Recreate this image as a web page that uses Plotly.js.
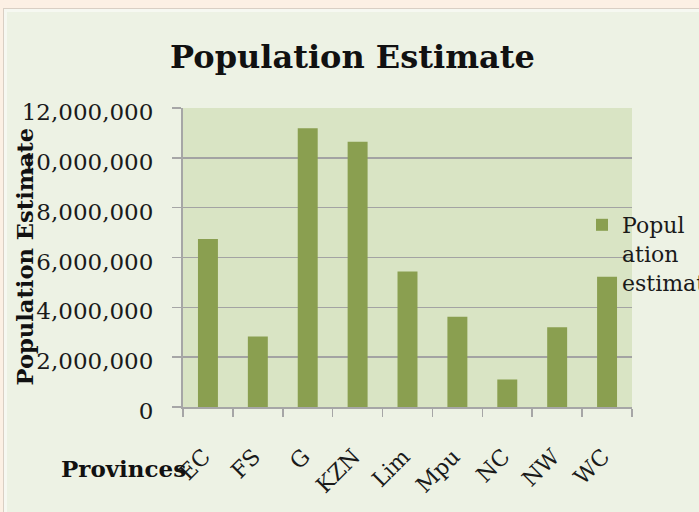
<!DOCTYPE html>
<html>
<head>
<meta charset="utf-8">
<script src="https://cdn.plot.ly/plotly-3.0.1.min.js"></script>
<style>
  html, body { margin: 0; padding: 0; width: 699px; height: 512px; overflow: hidden; background: #fcf0e4; }
  #panel { position: absolute; left: 3px; top: 8px; width: 696px; height: 504px; background: #edf2e4;
           border-left: 1px solid #d9cfc4; border-top: 1px solid #d9cfc4; box-sizing: border-box;
           box-shadow: inset 3px 3px 0 #f6f8f1; }
  #chart { position: absolute; left: 0; top: 0; width: 699px; height: 512px; }
</style>
</head>
<body>
<div id="panel"></div>
<div id="chart"></div>
<script>
const provinces = ["EC", "FS", "G", "KZN", "Lim", "Mpu", "NC", "NW", "WC"];
const populationEstimate = [6743800, 2824500, 11191700, 10645400, 5439600, 3617600, 1103900, 3200900, 5223900];
const seriesName = "Popul<br>ation<br>estimate";
const yTicks = [0, 2000000, 4000000, 6000000, 8000000, 10000000, 12000000];

const serif = "DejaVu Serif, Liberation Serif, serif";

const trace = {
  type: "bar",
  x: provinces,
  y: populationEstimate,
  name: seriesName,
  marker: { color: "#8a9f50" },
  showlegend: true
};

const layout = {
  width: 699,
  height: 512,
  paper_bgcolor: "rgba(0,0,0,0)",
  plot_bgcolor: "#d9e4c4",
  margin: { l: 183, r: 67, t: 108, b: 105, autoexpand: false },
  bargap: 0.6,
  title: {
    text: "<b>Population Estimate</b>",
    font: { family: serif, size: 32, color: "#111111" },
    x: 352.5 / 699, xanchor: "center", xref: "container",
    y: 1 - 57 / 512, yanchor: "middle", yref: "container"
  },
  xaxis: {
    type: "category",
    tickangle: -45,
    tickson: "boundaries",
    ticks: "outside",
    ticklen: 8,
    tickwidth: 1.5,
    tickcolor: "#a6a6a6",
    showline: true,
    linecolor: "#a6a6a6",
    linewidth: 2,
    showgrid: false,
    ticklabelstandoff: 26,
    ticklabelshift: -4,
    tickfont: { family: serif, size: 22, color: "#1a1a1a" }
  },
  yaxis: {
    range: [0, 12000000],
    tickvals: yTicks,
    tickformat: ",d",
    ticks: "outside",
    ticklen: 9,
    tickwidth: 1.5,
    tickcolor: "#a6a6a6",
    showline: true,
    linecolor: "#a6a6a6",
    linewidth: 2,
    showgrid: true,
    gridcolor: "#a3a3a3",
    gridwidth: 1.6,
    zeroline: false,
    ticklabelstandoff: 14,
    ticklabelshift: 4,
    tickfont: { family: serif, size: 23, color: "#1a1a1a" }
  },
  legend: {
    x: 1 - 50 / 449, xanchor: "left", xref: "paper",
    y: 1 - 96 / 299, yanchor: "top", yref: "paper",
    valign: "top",
    bgcolor: "rgba(0,0,0,0)",
    font: { family: serif, size: 22, color: "#1a1a1a" },
    itemwidth: 30
  },
  annotations: [
    {
      text: "<b>Population Estimate</b>",
      xref: "paper", yref: "paper", x: 0, y: 0.5,
      xanchor: "center", yanchor: "middle",
      xshift: -159, yshift: 1,
      textangle: -90, showarrow: false,
      font: { family: serif, size: 22.6, color: "#111111" }
    },
    {
      text: "<b>Provinces</b>",
      xref: "paper", yref: "paper", x: 0, y: 0,
      xanchor: "center", yanchor: "middle",
      xshift: -59.5, yshift: -61,
      showarrow: false,
      font: { family: serif, size: 23, color: "#111111" }
    }
  ]
};

Plotly.newPlot("chart", [trace], layout, { displayModeBar: false, staticPlot: true });
</script>
</body>
</html>
